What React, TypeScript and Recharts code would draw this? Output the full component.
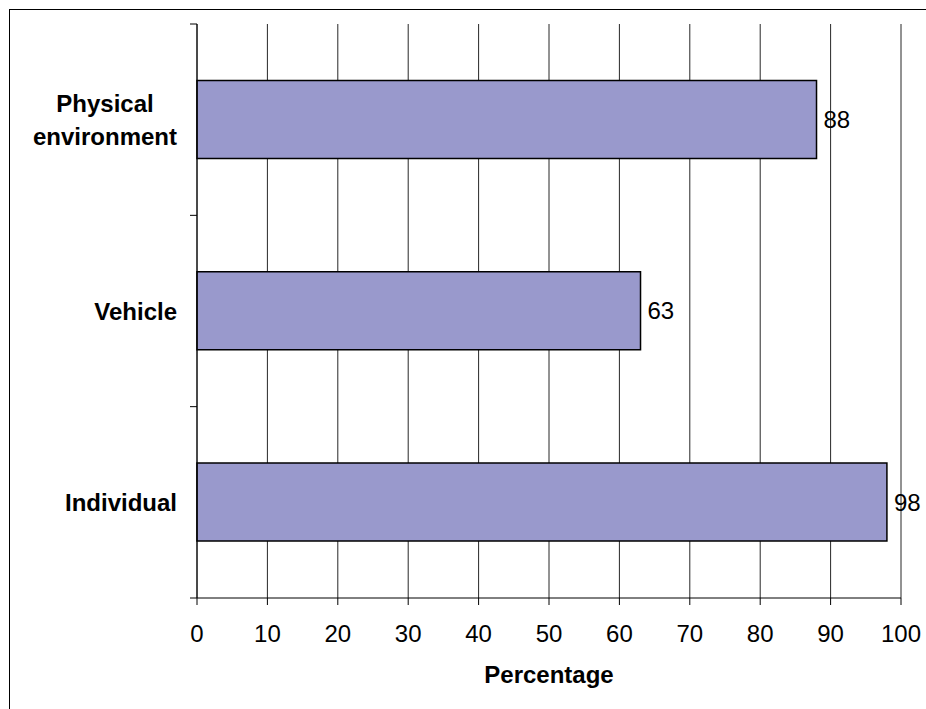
import React from 'react';
import { BarChart, Bar, XAxis, YAxis, CartesianGrid, LabelList, Label } from 'recharts';

const categories = ['Physical environment', 'Vehicle', 'Individual'];
const percentages = [88, 63, 98];
const xTicks = [0, 10, 20, 30, 40, 50, 60, 70, 80, 90, 100];

const W = 926;
const H = 709;
const AXIS_X = 197;
const TOP = 24;
const BOTTOM = 111;
const BAND = (H - TOP - BOTTOM) / categories.length;
const FONT = '"Liberation Sans", Arial, sans-serif';
const CAT_SIZE = 24;

// rough text width so wrapped labels can be centred as a block
let ctx: CanvasRenderingContext2D | null = null;
const measure = (s: string) => {
  if (!ctx) ctx = document.createElement('canvas').getContext('2d');
  if (!ctx) return s.length * CAT_SIZE * 0.6;
  ctx.font = `bold ${CAT_SIZE}px "Liberation Sans", Arial, sans-serif`;
  return ctx.measureText(s).width;
};

const data = categories.map((name, i) => ({ name, value: percentages[i] }));

const CategoryTick = (props: any) => {
  const { y, payload, index } = props;
  const words = String(payload.value).split(' ');
  const lines = words.length > 1 ? words : [String(payload.value)];
  const lineH = 33;
  const right = AXIS_X - 20;
  const blockW = Math.max(...lines.map(measure));
  const cx = right - blockW / 2;
  const startY = y - ((lines.length - 1) * lineH) / 2;
  return (
    <g>
      <line x1={AXIS_X - 7} x2={AXIS_X} y1={y - BAND / 2} y2={y - BAND / 2} stroke="#000" />
      {index === categories.length - 1 && (
        <line x1={AXIS_X - 7} x2={AXIS_X} y1={y + BAND / 2} y2={y + BAND / 2} stroke="#000" />
      )}
      {lines.map((l: string, i: number) => (
        <text
          key={i}
          x={cx}
          y={startY + i * lineH}
          textAnchor="middle"
          dominantBaseline="central"
          fontFamily={FONT}
          fontWeight="bold"
          fontSize={CAT_SIZE}
          fill="#000"
        >
          {l}
        </text>
      ))}
    </g>
  );
};

export default function App() {
  return (
    <div style={{ position: 'absolute', left: 0, top: 0, width: W, height: H, background: '#fff' }}>
      <div
        style={{
          position: 'absolute',
          left: 9,
          top: 9,
          width: W - 9,
          height: H - 9,
          borderLeft: '1px solid #000',
          borderTop: '1px solid #000',
          boxSizing: 'border-box',
        }}
      />
      <div style={{ position: 'absolute', left: 0, top: 0 }}>
        <BarChart
          width={W}
          height={H}
          data={data}
          layout="vertical"
          margin={{ top: TOP, right: 25, left: 0, bottom: 0 }}
          barCategoryGap="29.5%"
          style={{ fontFamily: FONT }}
        >
          <CartesianGrid horizontal={false} stroke="#000" strokeOpacity={0.85} />
          <XAxis
            type="number"
            domain={[0, 100]}
            ticks={xTicks}
            interval={0}
            height={BOTTOM}
            stroke="#000"
            tickSize={7}
            tickMargin={20}
            tick={{ fontSize: 24, fill: '#000', fontFamily: FONT }}
          >
            <Label
              value="Percentage"
              position="insideTop"
              offset={68}
              style={{ fontSize: 24, fontWeight: 'bold', fill: '#000', fontFamily: FONT }}
            />
          </XAxis>
          <YAxis
            type="category"
            dataKey="name"
            width={AXIS_X}
            stroke="#000"
            tickLine={false}
            interval={0}
            tick={<CategoryTick />}
          />
          <Bar dataKey="value" fill="#9999CC" stroke="#000" strokeWidth={1.5} isAnimationActive={false}>
            <LabelList
              dataKey="value"
              position="right"
              offset={7}
              style={{ fontSize: 24, fill: '#000', fontFamily: FONT }}
            />
          </Bar>
        </BarChart>
      </div>
    </div>
  );
}
